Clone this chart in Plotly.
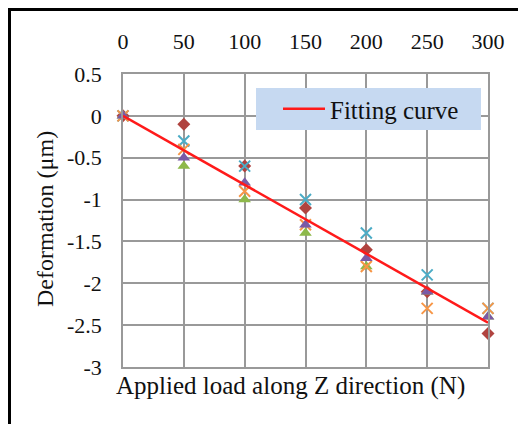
import plotly.graph_objects as go

loads = [0, 50, 100, 150, 200, 250, 300]
series_red_diamond = [0, -0.1, -0.6, -1.1, -1.6, -2.1, -2.6]
series_green_triangle = [0, -0.6, -1.0, -1.4, -1.8, -2.1, -2.4]
series_cyan_x = [0, -0.3, -0.6, -1.0, -1.4, -1.9, -2.3]
series_orange_x = [0, -0.4, -0.9, -1.3, -1.8, -2.3, -2.3]
series_purple_triangle = [0, -0.5, -0.8, -1.3, -1.7, -2.1, -2.4]
fit_x = [0, 300]
fit_y = [0, -2.47]

x_ticks = [0, 50, 100, 150, 200, 250, 300]
y_ticks = [0.5, 0, -0.5, -1, -1.5, -2, -2.5, -3]
y_tick_labels = ["0.5", "0", "-0.5", "-1", "-1.5", "-2", "-2.5", "-3"]

FONT = "Liberation Serif"
W, H = 526, 424
OFF = 8  # page body margin
# plot area in page pixels: x 123..488, y 74..367
L = 123 - OFF
T = 74 - OFF
R = W - (488 - OFF)
B = H - (367 - OFF)
pw, ph = W - L - R, H - T - B

def px_to_paper_x(px):
    return (px - OFF - L) / pw

def px_to_paper_y(py):
    return (H - B - (py - OFF)) / ph

fig = go.Figure()

marker_series = [
    (series_red_diamond, "diamond", "#B0433F", 10),
    (series_green_triangle, "triangle-up", "#8DB84A", 11),
    (series_cyan_x, "x-thin", "#4BACC6", 11),
    (series_orange_x, "x-thin", "#F79646", 11),
    (series_purple_triangle, "triangle-up", "#7A5AA6", 11),
]
for vals, sym, col, sz in marker_series:
    fig.add_trace(go.Scatter(
        x=loads, y=vals, mode="markers", showlegend=False, cliponaxis=False,
        marker=dict(symbol=sym, color=col, size=sz,
                    line=dict(color=col, width=2 if "x" in sym else 0)),
    ))

fig.add_trace(go.Scatter(
    x=fit_x, y=fit_y, mode="lines", name="Fitting curve",
    line=dict(color="#FF1A1A", width=2.5), cliponaxis=False,
))

shapes = [
    dict(type="rect", xref="paper", yref="paper",
         x0=px_to_paper_x(256), x1=px_to_paper_x(481),
         y0=px_to_paper_y(130), y1=px_to_paper_y(88),
         fillcolor="#C6D9F1", line=dict(width=0), layer="above"),
    dict(type="rect", xref="paper", yref="paper",
         x0=px_to_paper_x(9.5), x1=px_to_paper_x(600),
         y0=px_to_paper_y(500), y1=px_to_paper_y(9.5),
         line=dict(color="black", width=3), fillcolor="rgba(0,0,0,0)"),
]

annotations = [
    dict(text="Applied load along Z direction (N)", xref="paper", yref="paper",
         x=px_to_paper_x(290), y=px_to_paper_y(386), xanchor="center", yanchor="middle",
         showarrow=False, font=dict(family=FONT, size=25, color="#111111")),
    dict(text="Deformation (μm)", xref="paper", yref="paper",
         x=px_to_paper_x(45), y=px_to_paper_y(219), xanchor="center", yanchor="middle",
         textangle=-90, showarrow=False, font=dict(family=FONT, size=24, color="#111111")),
]

fig.update_layout(
    width=W, height=H,
    margin=dict(l=L, r=R, t=T, b=B),
    paper_bgcolor="white", plot_bgcolor="white",
    font=dict(family=FONT, size=22, color="#111111"),
    shapes=shapes, annotations=annotations,
    showlegend=True,
    legend=dict(x=px_to_paper_x(278), y=px_to_paper_y(109), xanchor="left", yanchor="middle",
                bgcolor="rgba(0,0,0,0)", borderwidth=0, itemwidth=42,
                font=dict(family=FONT, size=25, color="#111111")),
    xaxis=dict(side="top", range=[0, 300], tickvals=x_ticks, ticktext=[str(v) for v in x_ticks],
               showgrid=True, gridcolor="#999999", gridwidth=1.5,
               showline=True, linecolor="#999999", linewidth=1.5, mirror=True,
               ticks="outside", ticklen=14, tickcolor="rgba(0,0,0,0)", zeroline=False,
               tickfont=dict(family=FONT, size=22)),
    yaxis=dict(range=[-3, 0.5], tickvals=y_ticks, ticktext=y_tick_labels,
               showgrid=True, gridcolor="#999999", gridwidth=1.5,
               showline=True, linecolor="#999999", linewidth=1.5, mirror=True,
               ticks="outside", ticklen=15, tickcolor="rgba(0,0,0,0)", zeroline=False,
               tickfont=dict(family=FONT, size=22)),
)

fig.write_html("out.html")
